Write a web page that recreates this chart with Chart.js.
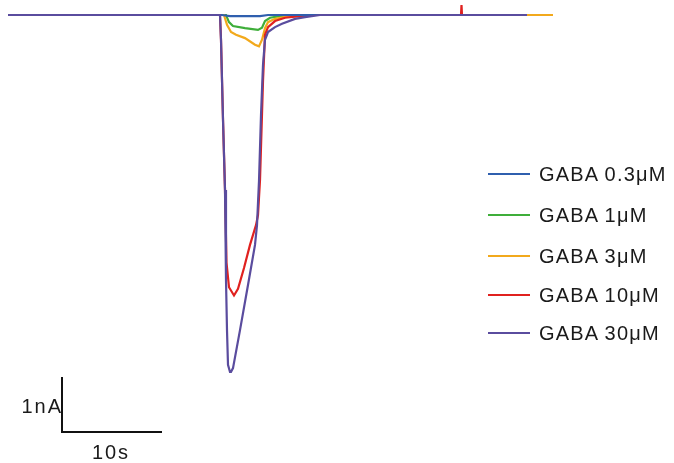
<!DOCTYPE html>
<html>
<head>
<meta charset="utf-8">
<script src="https://cdn.jsdelivr.net/npm/chart.js@4.4.1/dist/chart.umd.min.js"></script>
<style>
  html, body { margin: 0; padding: 0; background: #fff; }
  #wrap { position: relative; width: 674px; height: 463px; }
</style>
</head>
<body>
<div id="wrap"><canvas id="canvas" width="674" height="463"></canvas></div>
<script>
// Trazas de corriente: tiempo (s), corriente (nA)
const etiquetas = ["GABA 0.3μM", "GABA 1μM", "GABA 3μM", "GABA 10μM", "GABA 30μM"];
const colores = ["#2f5fae", "#3fae3a", "#f2a91c", "#e0211f", "#5a4c9e"];

const tBlue   = [0.8, 22.2, 23.0, 26.0, 26.8, 52.7];
const iBlue   = [0, 0, -0.02, -0.02, 0, 0];

const tGreen  = [0.8, 22.6, 22.9, 23.3, 24.5, 25.8, 26.2, 26.5, 27.0, 28.0, 30.0, 52.7];
const iGreen  = [0, 0, -0.13, -0.2, -0.24, -0.27, -0.23, -0.11, -0.05, -0.02, 0, 0];

const tYellow = [0.8, 22.4, 22.7, 23.1, 23.6, 24.5, 25.5, 25.9, 26.2, 26.5, 26.8, 27.5, 29.0, 31.0, 55.3];
const iYellow = [0, 0, -0.18, -0.31, -0.36, -0.42, -0.54, -0.57, -0.45, -0.24, -0.13, -0.07, -0.02, 0, 0];

const tRed    = [0.8, 22.0, 22.1, 22.3, 22.5, 22.65, 22.9, 23.4, 23.8, 24.4, 25.0, 25.6, 25.8, 26.0, 26.3, 26.5, 26.8, 27.5, 28.5, 30.0, 31.5, 46.1, 46.15, 46.2, 52.7];
const iRed    = [0, 0, -0.45, -1.9, -3.18, -4.5, -4.95, -5.1, -4.98, -4.6, -4.18, -3.82, -3.64, -3.0, -1.2, -0.36, -0.22, -0.11, -0.05, -0.02, 0, 0, 0.18, 0, 0];

const tPurple = [0.8, 22.0, 22.1, 22.3, 22.5, 22.6, 22.7, 22.8, 23.0, 23.1, 23.3, 24.0, 24.8, 25.5, 25.7, 25.9, 26.1, 26.3, 26.5, 26.8, 27.5, 28.2, 29.5, 30.5, 32.0, 52.7];
const iPurple = [0, 0, -0.45, -1.9, -3.18, -4.82, -5.73, -6.36, -6.49, -6.49, -6.42, -5.73, -4.91, -4.18, -3.82, -3.02, -1.82, -0.91, -0.45, -0.31, -0.22, -0.16, -0.07, -0.04, 0, 0];

// Barra de escala
const escalaT = 10;   // s
const escalaI = 1;    // nA
const escalaX0 = 6.2; // s
const escalaY0 = -7.58; // nA

const series = [
  [tBlue, iBlue], [tGreen, iGreen], [tYellow, iYellow], [tRed, iRed], [tPurple, iPurple]
];
const ordenes = [1, 4, 3, 2, 0];

const datasets = series.map((s, k) => ({
  label: etiquetas[k],
  data: s[0].map((t, j) => ({ x: t, y: s[1][j] })),
  borderColor: colores[k],
  borderWidth: 2.2,
  pointRadius: 0,
  tension: 0,
  fill: false,
  order: ordenes[k]
}));

// Plugin para la barra de escala y la leyenda
const extras = {
  id: "extras",
  afterDraw(chart) {
    const c = chart.ctx;
    const sx = chart.scales.x, sy = chart.scales.y;
    const x0 = sx.getPixelForValue(escalaX0);
    const x1 = sx.getPixelForValue(escalaX0 + escalaT);
    const y0 = sy.getPixelForValue(escalaY0);
    const y1 = sy.getPixelForValue(escalaY0 + escalaI);
    c.save();
    c.strokeStyle = "#111";
    c.lineWidth = 2;
    c.beginPath();
    c.moveTo(x0, y1);
    c.lineTo(x0, y0);
    c.lineTo(x1, y0);
    c.stroke();
    c.fillStyle = "#1a1a1a";
    c.font = "20px 'Liberation Sans', Arial, sans-serif";
    c.letterSpacing = "2px";
    c.textAlign = "right";
    c.textBaseline = "alphabetic";
    c.fillText("1nA", x0 + 1, 413);
    c.textAlign = "center";
    c.fillText("10s", (x0 + x1) / 2 - 1, 459);

    // leyenda
    const filas = [174, 215, 256, 295, 333];
    c.textAlign = "left";
    c.textBaseline = "middle";
    c.letterSpacing = "1.2px";
    chart.data.datasets.forEach((d, k) => {
      c.strokeStyle = d.borderColor;
      c.lineWidth = 2;
      c.beginPath();
      c.moveTo(488, filas[k]);
      c.lineTo(530, filas[k]);
      c.stroke();
      c.fillStyle = "#1a1a1a";
      c.fillText(d.label.replace(" ", "\u2009"), 539, filas[k] + 1);
    });
    c.restore();
  }
};

const grafica = new Chart(document.getElementById("canvas").getContext("2d"), {
  type: "line",
  data: { datasets },
  options: {
    responsive: false,
    animation: false,
    layout: { padding: 0 },
    plugins: { legend: { display: false }, tooltip: { enabled: false } },
    scales: {
      x: { type: "linear", display: false, min: 0, max: 67.4 },
      y: { type: "linear", display: false, min: -8.1455, max: 0.2727 }
    }
  },
  plugins: [extras]
});
</script>
</body>
</html>
